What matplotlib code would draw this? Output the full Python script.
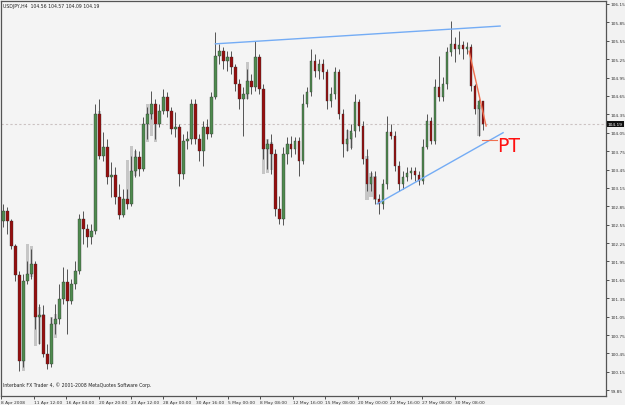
import matplotlib
matplotlib.use('Agg')
import matplotlib.pyplot as plt
from matplotlib.transforms import blended_transform_factory

header = "USDJPY,H4  104.56 104.57 104.09 104.19"
footer = "Interbank FX Trader 4, \u00a9 2001-2008 MetaQuotes Software Corp."

first_open = 102.61
closes = [102.77, 102.61, 102.20, 101.73, 100.33, 101.63, 101.75, 101.91, 101.04, 101.08,
          100.44, 100.28, 100.93, 101.01, 101.34, 101.62, 101.31, 101.58, 101.79, 102.64,
          102.48, 102.35, 102.45, 104.36, 103.67, 103.82, 103.33, 103.36, 103.00, 102.71,
          102.97, 102.89, 103.43, 103.65, 103.46, 104.19, 104.36, 104.52, 104.19, 104.40,
          104.63, 104.40, 104.11, 104.14, 103.38, 103.92, 103.95, 104.52, 103.95, 103.75,
          104.14, 104.03, 104.63, 105.30, 105.38, 105.22, 105.29, 105.12, 104.85, 104.60,
          104.68, 104.89, 104.80, 105.29, 104.76, 103.79, 103.87, 103.70, 102.81, 102.64,
          103.70, 103.87, 103.79, 103.92, 103.59, 104.52, 104.71, 105.22, 105.06, 105.17,
          105.04, 104.57, 104.68, 105.04, 104.36, 103.87, 103.95, 104.08, 104.55, 104.16,
          103.62, 103.21, 103.33, 102.97, 102.89, 103.21, 104.06, 104.00, 103.51, 103.21,
          103.33, 103.39, 103.43, 103.36, 103.26, 103.82, 104.24, 103.92, 104.80, 104.63,
          104.85, 105.37, 105.50, 105.42, 105.48, 105.42, 105.45, 104.81, 104.44, 104.56,
          104.19]
highs = [102.89, 102.84, 102.64, 102.24, 101.79, 101.75, 101.96, 102.15, 101.96, 101.26,
         101.24, 100.60, 101.04, 101.26, 101.58, 101.86, 101.83, 101.66, 101.96, 102.72,
         102.77, 102.56, 102.56, 104.52, 104.60, 104.06, 103.95, 103.57, 103.49, 103.21,
         103.13, 103.13, 103.67, 103.79, 103.75, 104.31, 104.47, 104.73, 104.60, 104.52,
         104.76, 104.71, 104.47, 104.39, 104.19, 104.03, 104.08, 104.60, 104.60, 104.03,
         104.24, 104.27, 104.71, 105.69, 105.50, 105.45, 105.38, 105.38, 105.17, 104.93,
         104.80, 105.09, 105.01, 105.55, 105.33, 104.85, 103.95, 104.03, 103.79, 103.02,
         103.82, 103.98, 104.00, 103.98, 103.98, 104.68, 104.80, 105.42, 105.33, 105.25,
         105.25, 105.09, 104.80, 105.12, 105.09, 104.44, 104.11, 104.19, 104.68, 104.60,
         104.24, 103.79, 103.43, 103.43, 103.05, 103.30, 104.32, 104.19, 104.08, 103.59,
         103.43, 103.49, 103.49, 103.49, 103.43, 103.95, 104.36, 104.31, 104.93, 105.30,
         104.96, 105.45, 105.87, 105.61, 105.71, 105.55, 105.53, 105.50, 104.85, 104.60,
         104.57]
lows = [102.51, 102.40, 102.15, 101.63, 100.16, 100.23, 101.58, 101.66, 100.85, 100.60,
        100.39, 100.20, 100.23, 100.77, 100.93, 101.26, 100.77, 101.26, 101.50, 101.75,
        102.24, 102.19, 102.24, 102.40, 103.62, 103.59, 103.21, 103.00, 102.89, 102.64,
        102.68, 102.81, 102.85, 103.33, 103.34, 103.43, 103.95, 104.27, 103.95, 104.14,
        104.36, 104.31, 104.03, 103.98, 103.18, 103.30, 103.79, 103.87, 103.87, 103.59,
        103.51, 103.95, 103.98, 104.60, 105.17, 105.09, 105.06, 105.01, 104.73, 104.44,
        104.00, 104.60, 104.68, 104.73, 104.68, 103.62, 103.46, 103.38, 102.69, 102.56,
        102.55, 103.54, 103.65, 103.70, 103.34, 103.54, 104.47, 104.65, 104.96, 104.93,
        104.93, 104.44, 104.47, 104.60, 104.27, 103.65, 103.75, 103.79, 103.98, 104.08,
        103.54, 103.10, 103.10, 102.89, 102.72, 102.81, 103.13, 103.95, 103.43, 103.10,
        103.13, 103.26, 103.30, 103.26, 103.20, 103.21, 103.79, 103.87, 103.87, 104.57,
        104.57, 104.76, 105.30, 105.20, 105.33, 105.25, 105.33, 104.73, 104.36, 104.00,
        104.09]

# faint grey "shadow" bars visible behind some candles: (bar, top, bottom)
ghost_bars = [5, 6, 7, 8, 9, 10, 12, 13, 24, 31, 32, 33, 36, 37, 38, 61, 65, 66, 67,
              86, 87, 91, 92, 93, 119]
ghost_tops = [100.33, 102.24, 102.20, 101.24, 101.20, 101.10, 101.04, 101.10, 104.40,
              103.60, 103.83, 103.75, 104.52, 104.50, 104.30, 105.20, 104.30, 103.95,
              103.90, 104.10, 104.05, 103.67, 103.40, 103.35, 104.50]
ghost_bots = [100.16, 101.66, 101.70, 100.57, 100.60, 100.70, 100.60, 100.70, 103.70,
              102.90, 103.30, 103.35, 103.90, 104.00, 103.90, 104.60, 103.38, 103.40,
              103.45, 103.75, 103.80, 102.95, 103.00, 102.95, 104.00]

time_labels = ["8 Apr 2008", "11 Apr 12:00", "16 Apr 04:00", "20 Apr 20:00", "23 Apr 12:00",
               "28 Apr 00:00", "30 Apr 16:00", "5 May 00:00", "8 May 08:00", "12 May 16:00",
               "15 May 08:00", "20 May 00:00", "22 May 16:00", "27 May 08:00", "30 May 08:00"]
price_ticks = [106.15, 105.85, 105.55, 105.25, 104.95, 104.65, 104.35, 104.05, 103.75,
               103.45, 103.15, 102.85, 102.55, 102.25, 101.95, 101.65, 101.35, 101.05,
               100.75, 100.45, 100.15, 99.85]
last_price = 104.19

upper_trend_x = [53, 124.25]
upper_trend_y = [105.50, 105.79]
lower_trend_x = [93.5, 125]
lower_trend_y = [102.89, 104.05]
red_trend_x = [116.5, 120.75]
red_trend_y = [105.38, 104.16]
pt_line_x = [119.75, 123.5]
pt_line_y = [103.93, 103.93]
pt_text_pos = (123.6, 103.84)

W, H = 625, 406
fig = plt.figure(figsize=(W / 100, H / 100), dpi=100, facecolor='#f2f2f2')
x0, x1, ytop, ybot = 1.5, 606, 1.5, 397
ax = fig.add_axes([x0 / W, 1 - ybot / H, (x1 - x0) / W, (ybot - ytop) / H])
ax.set_facecolor('#f4f4f4')

n = len(closes)
opens = [first_open] + closes[:-1]
xs = list(range(n))

# ghost bars
for b, t, btm in zip(ghost_bars, ghost_tops, ghost_bots):
    ax.bar(b, t - btm, bottom=btm, width=0.85, color='#c6c6c6', edgecolor='none', zorder=2)

wick_col = '#3a3a3a'
ax.vlines(xs, lows, highs, colors=wick_col, linewidth=0.6, zorder=3)
for i in range(n):
    o, c = opens[i], closes[i]
    up = c >= o
    bot = min(o, c)
    h = max(abs(c - o), 0.015)
    ax.bar(i, h, bottom=bot, width=0.62, color='#4f8a4f' if up else '#960f0f',
           edgecolor='#2e2e2e', linewidth=0.25, zorder=4)

ax.axhline(last_price, color='#cbc2c2', linestyle=(0, (2, 2)), linewidth=0.8, zorder=1)

ax.plot(upper_trend_x, upper_trend_y, color='#74acf5', linewidth=1.0, zorder=5)
ax.plot(lower_trend_x, lower_trend_y, color='#74acf5', linewidth=1.0, zorder=5)
ax.plot(red_trend_x, red_trend_y, color='#f07050', linewidth=1.0, zorder=5)
ax.plot(pt_line_x, pt_line_y, color='#f07050', linewidth=0.8, zorder=5)
ax.text(pt_text_pos[0], pt_text_pos[1], "PT", color='#ff1010', fontsize=13.5,
        ha='left', va='center', zorder=6)

ax.set_xlim(-0.375, 150.75)
ax.set_ylim(99.755, 106.207)

ax.yaxis.tick_right()
ax.set_yticks(price_ticks)
ax.set_yticklabels(["%.2f" % p for p in price_ticks])
ax.tick_params(axis='y', direction='out', length=2.0, width=0.6, pad=1.2,
               labelsize=3.1, colors='#333333')

step = 8.1
tick_pos = [-0.5 + step * k for k in range(len(time_labels))]
ax.set_xticks(tick_pos)
ax.set_xticklabels(time_labels, ha='left')
ax.tick_params(axis='x', direction='out', length=2.0, width=0.6, pad=0.8,
               labelsize=3.2, colors='#333333')

for s in ax.spines.values():
    s.set_color('#555555')
    s.set_linewidth(0.9)

ax.text(0.003, 0.994, header, transform=ax.transAxes, fontsize=3.3, color='#222222',
        ha='left', va='top')
ax.text(0.003, 0.022, footer, transform=ax.transAxes, fontsize=3.3, color='#222222',
        ha='left', va='bottom')

tr = blended_transform_factory(ax.transAxes, ax.transData)
ax.text(1.003, last_price, "104.19", transform=tr, fontsize=3.1, color='white',
        ha='left', va='center',
        bbox=dict(boxstyle='square,pad=0.3', facecolor='#111111', edgecolor='none'))

fig.savefig('out.png', dpi=100, facecolor=fig.get_facecolor())
